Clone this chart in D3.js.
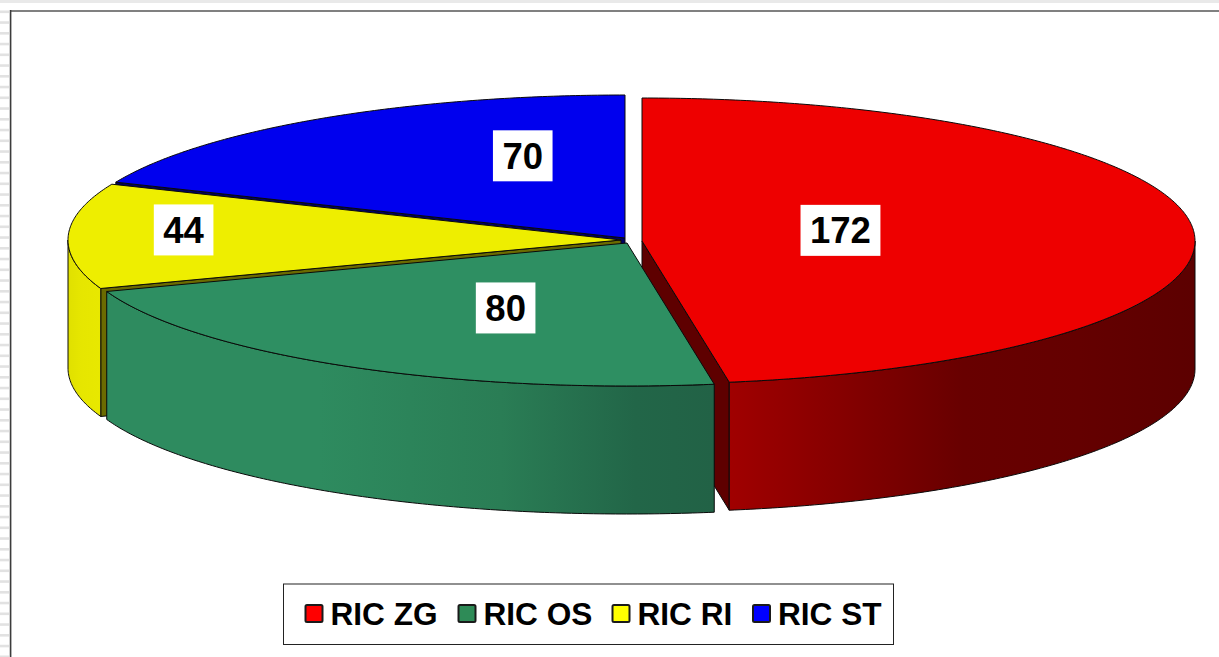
<!DOCTYPE html>
<html><head><meta charset="utf-8">
<script src="https://cdn.jsdelivr.net/npm/d3@7/dist/d3.min.js"></script>
<style>html,body{margin:0;padding:0;background:#fff}svg{display:block}text{font-family:"Liberation Sans",Arial,sans-serif;font-weight:700;fill:#000}</style>
</head><body><svg id="c" width="1219" height="657"></svg>
<script>
// ---- data
const categories = ["RIC ZG","RIC OS","RIC RI","RIC ST"];
const values = [172,80,44,70];
// ---- styling per category
const topColors = ["#ee0000","#2e8f62","#eeee00","#0000ee"];
const legendColors = ["#ff0000","#2e8b57","#ffff00","#0000ff"];
const cutColors = ["#5e0000","#1f5c40","#6b6b00","#000066"];
// ---- layout
const W=1219,H=657, CX=626, CY=238, RX=553, RY=143, DEPTH=128;
const explode = [[16,3],[1,5],[-5,2],[-1,0]];            // slice offset from the pie centre
const labelNudge = [[-77,-4.5],[20,3.5],[-161,-8],[50,-22.5]]; // label offset from the slice centroid
const skewA = 1.9, skewB = 0.8;                           // perspective correction of angles, degrees

const svg=d3.select("#c");
const defs=svg.append("defs");
function grad(id,x1,x2,stops){
  const g=defs.append("linearGradient").attr("id",id).attr("gradientUnits","userSpaceOnUse")
    .attr("x1",x1).attr("x2",x2).attr("y1",0).attr("y2",0);
  stops.forEach(s=>g.append("stop").attr("offset",s[0]).attr("stop-color",s[1]));
}
grad("wall0",730,1195,[[0,"#a00000"],[0.18,"#8c0000"],[0.5,"#680000"],[0.75,"#640000"],[1,"#5c0000"]]);
grad("wall1",106,714,[[0,"#2e8b5f"],[0.35,"#2e8b5f"],[0.65,"#2a7d55"],[0.87,"#226648"],[1,"#226246"]]);
grad("wall2",68,100,[[0,"#e0e000"],[0.4,"#e6e600"],[1,"#e8e800"]]);

// page frame decoration
svg.append("rect").attr("x",0).attr("y",0).attr("width",W).attr("height",3).attr("fill","#e9e9e9");
svg.append("g").selectAll("rect").data(d3.range(0,61)).join("rect")
  .attr("x",0).attr("width",9).attr("y",i=>10.5+i*10.75).attr("height",2.6).attr("fill","#e2e2e2");
svg.append("rect").attr("x",9).attr("y",10).attr("width",1).attr("height",H-10).attr("fill","#cfcfcf");
svg.append("rect").attr("x",10).attr("y",10).attr("width",W-10).attr("height",2).attr("fill","#808080");
svg.append("rect").attr("x",10).attr("y",10).attr("width",1.4).attr("height",H-10).attr("fill","#3c3c3c");

// pie geometry from the data
const arcs=d3.pie().sort(null).value(d=>d)(values);
const warp=a=>a+(Math.PI/180)*(skewA*Math.sin(a/2)-skewB*Math.sin(a));
const sx=d3.scaleLinear().domain([-1,1]).range([CX-RX,CX+RX]);
const sy=d3.scaleLinear().domain([-1,1]).range([CY-RY,CY+RY]);
const pt=(i,a,r=1,dz=0)=>[sx(r*Math.sin(a))+explode[i][0], sy(-r*Math.cos(a))+explode[i][1]+dz];
const line=d3.line();
const sample=(a0,a1)=>{const n=Math.max(2,Math.ceil(Math.abs(a1-a0)/0.01));return d3.range(n+1).map(k=>a0+(a1-a0)*k/n);};

function drawTop(i){
  const a=arcs[i], s=warp(a.startAngle), e=warp(a.endAngle);
  const p=[pt(i,0,0)].concat(sample(s,e).map(t=>pt(i,t)));
  svg.append("path").attr("d",line(p)+"Z").attr("fill",topColors[i]).attr("stroke","#0a0a0a").attr("stroke-width",1).attr("stroke-linejoin","round");
}
function drawCut(i,ang){
  const t=warp(ang);
  const p=[pt(i,0,0),pt(i,t),pt(i,t,1,DEPTH),pt(i,0,0,DEPTH)];
  svg.append("path").attr("d",line(p)+"Z").attr("fill",cutColors[i]).attr("stroke","#0a0a0a").attr("stroke-width",1);
}
function drawWall(i,a0,a1){
  const o=sample(a0,a1);
  const p=o.map(t=>pt(i,t)).concat(o.slice().reverse().map(t=>pt(i,t,1,DEPTH)));
  svg.append("path").attr("d",line(p)+"Z").attr("fill",`url(#wall${i})`).attr("stroke","#0a0a0a").attr("stroke-width",1).attr("stroke-linejoin","round");
}
const Q=Math.PI/2;
// painter's order: back to front
drawCut(3,arcs[3].startAngle); drawTop(3);
drawCut(2,arcs[2].startAngle); drawWall(2,warp(arcs[2].startAngle),3*Q); drawTop(2);
drawCut(0,arcs[0].endAngle); drawWall(0,Q,warp(arcs[0].endAngle)); drawTop(0);
drawWall(1,warp(arcs[1].startAngle),warp(arcs[1].endAngle)); drawTop(1);

// value labels
const LFS=36.5;
arcs.forEach((a,i)=>{
  const m=warp((a.startAngle+a.endAngle)/2);
  const c=pt(i,m,0.5);
  const x=c[0]+labelNudge[i][0], y=c[1]+labelNudge[i][1];
  const g=svg.append("g");
  const t=g.append("text").attr("x",x).attr("y",y+13).attr("text-anchor","middle").attr("font-size",LFS).text(values[i]);
  const w=t.node().getComputedTextLength()+19;
  g.insert("rect","text").attr("x",x-w/2).attr("y",y-25.5).attr("width",w).attr("height",51).attr("fill","#fff");
});

// legend
const LEG={x:283.5,y:584,w:610,h:60.5};
svg.append("rect").attr("x",LEG.x).attr("y",LEG.y).attr("width",LEG.w).attr("height",LEG.h).attr("fill","#fff").attr("stroke","#222").attr("stroke-width",1);
const legendX=[305.5,458.5,612.5,753];
const legend=svg.append("g").selectAll("g").data(categories).join("g").attr("transform",(d,i)=>`translate(${legendX[i]},605)`);
legend.append("rect").attr("width",17).attr("height",17).attr("rx",1.5).attr("fill",(d,i)=>legendColors[i]).attr("stroke","#1a1a1a").attr("stroke-width",2);
legend.append("text").attr("x",25).attr("y",20).attr("font-size",31.6).text(d=>d);
</script></body></html>
